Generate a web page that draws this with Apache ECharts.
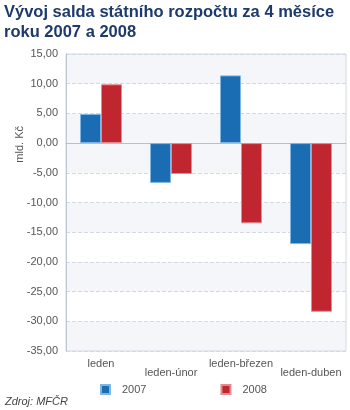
<!DOCTYPE html>
<html>
<head>
<meta charset="utf-8">
<script src="https://cdn.jsdelivr.net/npm/echarts@6/dist/echarts.min.js"></script>
<style>
  html, body { margin: 0; padding: 0; background: #fff; }
  #chart { width: 350px; height: 410px; }
</style>
</head>
<body>
<div id="chart"></div>
<script>
// data
var categories = ['leden', 'leden-únor', 'leden-březen', 'leden-duben'];
var saldo2007 = [4.9, -6.7, 11.4, -17.0];
var saldo2008 = [9.9, -5.2, -13.5, -28.4];
var seriesNames = ['2007', '2008'];
// shaded bands of the plot area
var grayBands = [[10, 15], [-5, 5], [-15, -10], [-25, -20], [-35, -30]];

var font = 'Arial, "Liberation Sans", sans-serif';
var myChart = echarts.init(document.getElementById('chart'));

var option = {
    backgroundColor: '#fff',
    animation: false,
    title: {
        text: 'Vývoj salda státního rozpočtu za 4 měsíce\nroku 2007 a 2008',
        left: 4,
        top: 2,
        padding: 0,
        textStyle: {
            fontFamily: font,
            fontSize: 16.5,
            fontWeight: 'bold',
            color: '#1d3a6b',
            lineHeight: 20
        }
    },
    grid: {
        left: 66,
        right: 4,
        top: 54,
        bottom: 59,
        show: true,
        borderColor: '#d2d9e4',
        borderWidth: 1
    },
    legend: {
        data: seriesNames,
        left: 100,
        top: 384,
        padding: 0,
        itemWidth: 9,
        itemHeight: 9,
        itemGap: 74,
        icon: 'rect',
        textStyle: {
            fontFamily: font,
            fontSize: 11,
            color: '#555',
            padding: [0, 0, 0, 7]
        }
    },
    xAxis: {
        type: 'category',
        data: categories,
        axisLine: { show: true, onZero: true, lineStyle: { color: '#b4bfd0' } },
        axisTick: { show: false },
        axisLabel: {
            interval: 0,
            margin: 8,
            fontFamily: font,
            fontSize: 11,
            color: '#555',
            lineHeight: 9,
            formatter: function(v, i){
                return i % 2 ? '\n' + v : v;
            }
        }
    },
    yAxis: {
        type: 'value',
        min: -35,
        max: 15,
        interval: 5,
        axisLine: { show: true, lineStyle: { color: '#bcc6d5' } },
        axisTick: { show: false },
        axisLabel: {
            margin: 8,
            fontFamily: font,
            fontSize: 11,
            color: '#555',
            formatter: function(v){
                return v.toFixed(2).replace('.', ',');
            }
        },
        splitLine: {
            lineStyle: { color: '#d3d9e2', type: 'dashed' }
        }
    },
    graphic: [
        {
            type: 'text',
            left: 14,
            top: 126,
            rotation: Math.PI / 2,
            style: {
                text: 'mld. Kč',
                font: '11px ' + font,
                fill: '#555'
            }
        },
        {
            type: 'text',
            left: 5,
            top: 396,
            style: {
                text: 'Zdroj: MFČR',
                font: 'italic 11px ' + font,
                fill: '#444'
            }
        }
    ],
    series: [
        {
            // background bands only, kept under the axes
            name: 'bands',
            type: 'line',
            data: [],
            z: -1,
            markArea: {
                silent: true,
                z: -1,
                itemStyle: { color: '#f4f6f9' },
                data: grayBands.map(function(b){
                    return [{ yAxis: b[0] }, { yAxis: b[1] }];
                })
            }
        },
        {
            name: seriesNames[0],
            type: 'bar',
            data: saldo2007,
            barGap: '0%',
            barCategoryGap: '40%',
            itemStyle: { color: '#1a6db2', borderColor: '#7fb6e2', borderWidth: 1 }
        },
        {
            name: seriesNames[1],
            type: 'bar',
            data: saldo2008,
            itemStyle: { color: '#c0262f', borderColor: '#e58a90', borderWidth: 1 }
        }
    ]
};
myChart.setOption(option);
</script>
</body>
</html>
